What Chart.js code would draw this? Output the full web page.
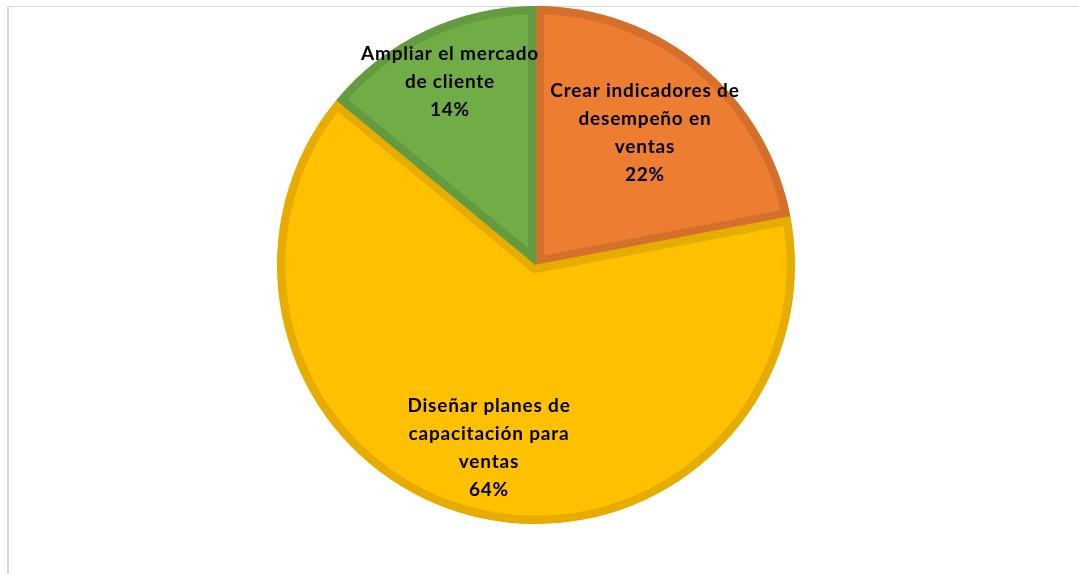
<!DOCTYPE html>
<html>
<head>
<meta charset="utf-8">
<script src="https://cdn.jsdelivr.net/npm/chart.js@4"></script>
<style>
    html, body { margin: 0; padding: 0; background: #fff; }
    #frame {
        position: absolute;
        left: 7px;
        top: 6px;
        width: 1072px;
        height: 568px;
        border-top: 1px solid #d9d9d9;
        border-left: 2px solid #d9d9d9;
        box-sizing: border-box;
    }
    #wrap { position: absolute; left: 0; top: 0; width: 1079px; height: 574px; }
</style>
</head>
<body>
<div id="frame"></div>
<div id="wrap"><canvas id="canvas"></canvas></div>
<script>
// Categorías del gráfico (líneas de cada etiqueta).
const categories = [
    ['Crear indicadores de', 'desempeño en', 'ventas'],
    ['Diseñar planes de', 'capacitación para', 'ventas'],
    ['Ampliar el mercado', 'de cliente'],
]

// Porcentajes de cada categoría.
const values = [22, 64, 14]

// Colores de relleno y de borde.
const fillColors = ['#ED7D31', '#FFC000', '#70AD47']
const borderColors = ['#D5702C', '#E6AC00', '#659B40']

Chart.defaults.animation = false
Chart.defaults.font.family = 'Lato, "Open Sans", sans-serif'

// Distancia relativa al radio donde se dibuja cada etiqueta.
const labelRadius = [0.66, 0.73, 0.78]

// Plugin que escribe nombre y porcentaje dentro de cada sector.
const sliceLabels = {
    id: 'sliceLabels',
    afterDatasetsDraw(chart) {
        const ctx = chart.ctx
        const meta = chart.getDatasetMeta(0)
        const total = values.reduce((a, b) => a + b, 0)
        const lineHeight = 28

        ctx.save()
        ctx.font = 'bold 19px Lato, "Open Sans", sans-serif'
        ctx.letterSpacing = '0.8px'
        ctx.fillStyle = '#000'
        ctx.textAlign = 'center'
        ctx.textBaseline = 'middle'

        meta.data.forEach((arc, i) => {
            const { x, y, startAngle, endAngle, outerRadius } = arc.getProps(['x', 'y', 'startAngle', 'endAngle', 'outerRadius'], true)
            const mid = (startAngle + endAngle) / 2
            const r = outerRadius * labelRadius[i]
            const cx = x + Math.cos(mid) * r
            const cy = y + Math.sin(mid) * r

            const lines = categories[i].concat([Math.round(values[i] / total * 100) + '%'])
            const top = cy - (lines.length - 1) * lineHeight / 2

            lines.forEach((line, j) => {
                ctx.fillText(line, cx, top + j * lineHeight)
            })
        })

        ctx.restore()
    },
}

new Chart(document.querySelector('#canvas'), {
    type: 'pie',
    data: {
        labels: categories.map(c => c.join(' ')),
        datasets: [
            {
                data: values,
                backgroundColor: fillColors,
                borderColor: borderColors,
                borderWidth: 8,
                borderAlign: 'inner',
            },
        ],
    },
    options: {
        responsive: true,
        maintainAspectRatio: false,
        layout: {
            padding: { top: 6, bottom: 50, left: 0, right: 7 },
        },
        plugins: {
            legend: { display: false },
            tooltip: { enabled: false },
        },
    },
    plugins: [sliceLabels],
})
</script>
</body>
</html>
